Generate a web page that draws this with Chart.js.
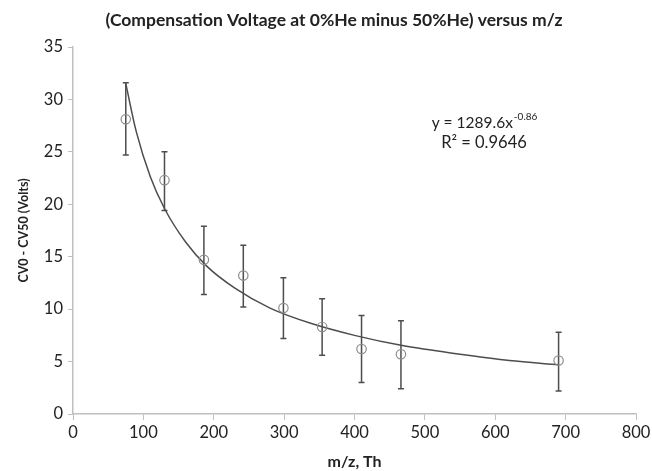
<!DOCTYPE html>
<html>
<head>
<meta charset="utf-8">
<script src="https://cdn.jsdelivr.net/npm/chart.js@4/dist/chart.umd.min.js"></script>
<style>
  html, body { margin: 0; padding: 0; background: #fff; }
  #wrap { width: 652px; height: 471px; }
</style>
</head>
<body>
<div id="wrap"><canvas id="c" width="652" height="471"></canvas></div>
<script>
// ---- data ----
const mz       = [75, 130, 186, 242, 299, 354, 410, 466, 690];
const cvDiff   = [28.1, 22.3, 14.7, 13.2, 10.1, 8.3, 6.2, 5.7, 5.1];
const errUpper = [31.6, 25.0, 17.9, 16.1, 13.0, 11.0, 9.4, 8.9, 7.8];
const errLower = [24.7, 19.4, 11.4, 10.2, 7.2, 5.6, 3.0, 2.4, 2.2];
// trendline samples
const fitX     = [75, 90, 110, 130, 160, 190, 230, 280, 340, 400, 470, 550, 620, 690];
const fitY     = [31.5, 26.9, 22.6, 19.6, 16.4, 14.1, 12.0, 10.1, 8.6, 7.5, 6.5, 5.7, 5.1, 4.7];
const xTicks   = [0, 100, 200, 300, 400, 500, 600, 700, 800];
const yTicks   = [0, 5, 10, 15, 20, 25, 30, 35];
const titleText = '(Compensation Voltage at 0%He minus 50%He) versus m/z';
const xTitle   = 'm/z, Th';
const yTitle   = 'CV0 - CV50 (Volts)';
const eqMain   = 'y = 1289.6x';
const eqExp    = '-0.86';
const eqR2     = 'R\u00B2 = 0.9646';

const FONT = 'Lato, "Open Sans", sans-serif';

const errorBars = {
  id: 'errorBars',
  beforeDatasetsDraw(chart) {
    const { ctx, scales: { x, y } } = chart;
    ctx.save();
    ctx.strokeStyle = '#4d4d4d';
    ctx.lineWidth = 1.5;
    for (let i = 0; i < mz.length; i++) {
      const px = x.getPixelForValue(mz[i]);
      const pt = y.getPixelForValue(errUpper[i]);
      const pb = y.getPixelForValue(errLower[i]);
      ctx.beginPath();
      ctx.moveTo(px, pt); ctx.lineTo(px, pb);
      ctx.moveTo(px - 3, pt); ctx.lineTo(px + 3, pt);
      ctx.moveTo(px - 3, pb); ctx.lineTo(px + 3, pb);
      ctx.stroke();
    }
    ctx.restore();
  }
};

const equation = {
  id: 'equation',
  afterDraw(chart) {
    const { ctx, scales: { x, y } } = chart;
    const cx = x.getPixelForValue(584);
    const y1 = y.getPixelForValue(27.75);
    const y2 = y.getPixelForValue(25.87);
    ctx.save();
    ctx.fillStyle = '#222';
    ctx.textBaseline = 'middle';
    ctx.font = '15.5px ' + FONT;
    const w1 = ctx.measureText(eqMain).width;
    ctx.font = '10px ' + FONT;
    const w2 = ctx.measureText(eqExp).width;
    const start = cx - (w1 + w2) / 2;
    ctx.textAlign = 'left';
    ctx.font = '15.5px ' + FONT;
    ctx.fillText(eqMain, start, y1);
    ctx.font = '10px ' + FONT;
    ctx.fillText(eqExp, start + w1 + 1, y1 - 6);
    ctx.font = '16.5px ' + FONT;
    ctx.textAlign = 'center';
    ctx.fillText(eqR2, cx, y2);
    ctx.restore();
  }
};

new Chart(document.getElementById('c'), {
  type: 'scatter',
  data: {
    datasets: [
      {
        label: 'data',
        data: mz.map((v, i) => ({ x: v, y: cvDiff[i] })),
        pointStyle: 'circle',
        pointRadius: 4.7,
        pointBorderColor: '#8c8c8c',
        pointBackgroundColor: 'rgba(0,0,0,0)',
        pointBorderWidth: 1.2,
        showLine: false,
        order: 1
      },
      {
        label: 'fit',
        type: 'line',
        data: fitX.map((v, i) => ({ x: v, y: fitY[i] })),
        borderColor: '#4d4d4d',
        borderWidth: 1.5,
        pointRadius: 0,
        fill: false,
        cubicInterpolationMode: 'monotone',
        order: 2
      }
    ]
  },
  options: {
    responsive: false,
    animation: false,
    events: [],
    layout: { padding: { left: 16, right: 0, top: 0, bottom: 0 } },
    plugins: {
      legend: { display: false },
      tooltip: { enabled: false },
      title: {
        display: true,
        text: titleText,
        color: '#222',
        font: { family: FONT, size: 17.5, weight: 'bold' },
        padding: { top: 9.5, bottom: 16.5 }
      }
    },
    scales: {
      x: {
        type: 'linear',
        min: 0, max: 800,
        afterBuildTicks: (s) => { s.ticks = xTicks.map(v => ({ value: v })); },
        afterFit: (s) => { s.height = 57; s.paddingRight = 16; },
        ticks: { color: '#222', font: { family: FONT, size: 16.5 }, padding: 3, maxRotation: 0 },
        grid: { display: true, drawOnChartArea: false, drawTicks: true, tickLength: 6, color: '#bfbfbf', lineWidth: 1 },
        border: { display: true, color: '#bfbfbf', width: 1.5 },
        title: { display: true, text: xTitle, color: '#222', font: { family: FONT, size: 16, weight: 'bold' }, padding: { top: 0, bottom: 0 } }
      },
      y: {
        type: 'linear',
        min: 0, max: 35,
        afterBuildTicks: (s) => { s.ticks = yTicks.map(v => ({ value: v })); },
        afterFit: (s) => { s.width = 57; },
        ticks: { color: '#222', font: { family: FONT, size: 16.5 }, padding: 5 },
        grid: { display: true, drawOnChartArea: false, drawTicks: true, tickLength: 5, color: '#bfbfbf', lineWidth: 1 },
        border: { display: true, color: '#bfbfbf', width: 1.5 },
        title: { display: true, text: yTitle, color: '#222', font: { family: FONT, size: 12.5, weight: 'bold' }, padding: { top: 0, bottom: 0 } }
      }
    }
  },
  plugins: [errorBars, equation]
});
</script>
</body>
</html>
